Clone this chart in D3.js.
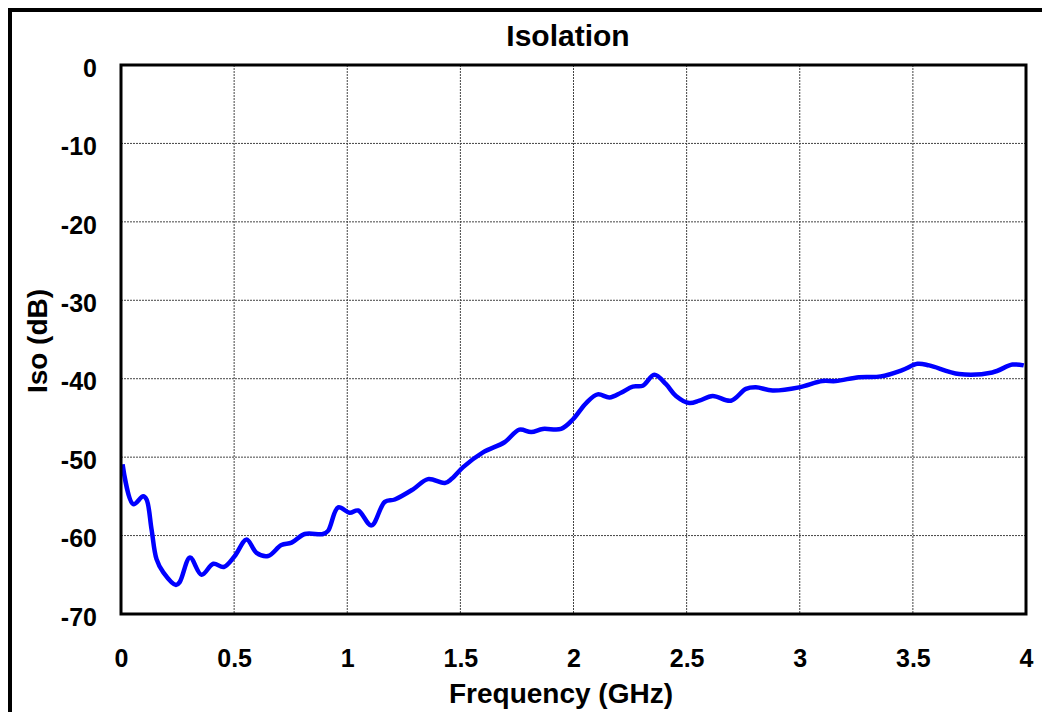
<!DOCTYPE html>
<html>
<head>
<meta charset="utf-8">
<title>Isolation</title>
<style>
  body { margin: 0; background: #fff; }
  svg { display: block; font-family: "Liberation Sans", Arial, sans-serif; }
  .tick text { font-size: 25px; font-weight: bold; fill: #000; }
  .grid line { stroke: #444; stroke-width: 1; stroke-dasharray: 2,1; }
</style>
</head>
<body>
<svg id="chart" width="1042" height="712"></svg>
<script src="https://cdn.jsdelivr.net/npm/d3@7"></script>
<script>
// frequency in GHz, isolation in dB
var freq = [0.007, 0.054, 0.098, 0.113, 0.135, 0.157, 0.187, 0.243, 0.26, 0.305, 0.356, 0.408, 0.454,
  0.503, 0.555, 0.599, 0.65, 0.709, 0.754, 0.812, 0.893, 0.915, 0.96, 1.011, 1.048, 1.107, 1.166,
  1.21, 1.291, 1.357, 1.431, 1.46, 1.511, 1.6, 1.695, 1.761, 1.813, 1.864, 1.945, 1.997, 2.056,
  2.107, 2.159, 2.21, 2.262, 2.306, 2.357, 2.409, 2.453, 2.512, 2.556, 2.615, 2.696, 2.762, 2.806,
  2.88, 2.997, 3.1, 3.159, 3.262, 3.358, 3.453, 3.52, 3.572, 3.704, 3.851, 3.94, 3.99];
var iso = [-50.9, -56.0, -55.0, -55.4, -59.2, -63.0, -64.7, -66.3, -65.9, -62.8, -65.0, -63.6, -64.0,
  -62.6, -60.5, -62.2, -62.6, -61.2, -60.9, -59.8, -59.8, -59.4, -56.4, -57.1, -56.8, -58.7, -55.7,
  -55.4, -54.1, -52.8, -53.3, -52.8, -51.3, -49.4, -48.1, -46.5, -46.8, -46.4, -46.4, -45.2, -43.1,
  -42.0, -42.4, -41.8, -41.0, -40.9, -39.5, -40.7, -42.2, -43.1, -42.8, -42.2, -42.8, -41.3, -41.1,
  -41.5, -41.1, -40.3, -40.3, -39.8, -39.7, -38.9, -38.1, -38.3, -39.4, -39.2, -38.2, -38.3];
var xTicks = [0, 0.5, 1, 1.5, 2, 2.5, 3, 3.5, 4];
var yTicks = [0, -10, -20, -30, -40, -50, -60, -70];

var svg = d3.select('#chart');
// plot box edges (window.top is reserved, so prefixed names)
var pLeft = 121, pRight = 1026, pTop = 65, pBottom = 614;

var x = d3.scaleLinear().domain([0, 4]).range([pLeft, pRight]);
var y = d3.scaleLinear().domain([-70, 0]).range([pBottom, pTop]);

// outer frame (runs off the right and bottom edge)
svg.append('rect')
  .attr('x', 10).attr('y', 10).attr('width', 1100).attr('height', 800)
  .attr('fill', 'none').attr('stroke', '#000').attr('stroke-width', 4);

// grid
var grid = svg.append('g').attr('class', 'grid');
grid.selectAll('.vx').data(xTicks.slice(1, -1)).enter().append('line')
  .attr('x1', d => x(d)).attr('x2', d => x(d)).attr('y1', pTop).attr('y2', pBottom);
grid.selectAll('.hy').data(yTicks.slice(1, -1)).enter().append('line')
  .attr('x1', pLeft).attr('x2', pRight).attr('y1', d => y(d)).attr('y2', d => y(d));

// axes (labels only), plain hyphen for negatives like the original
var xAxis = svg.append('g')
  .attr('transform', 'translate(0,' + (pBottom + 27) + ')')
  .call(d3.axisBottom(x).tickValues(xTicks).tickSize(0).tickPadding(8).tickFormat(d => String(d)));
xAxis.select('.domain').remove();

var yAxis = svg.append('g')
  .attr('transform', 'translate(' + (pLeft - 20) + ',0)')
  .call(d3.axisLeft(y).tickValues(yTicks).tickSize(0).tickPadding(4).tickFormat(d => String(d)));
yAxis.select('.domain').remove();
yAxis.selectAll('text').attr('dy', '0.45em');

// data line
var pts = freq.map((f, i) => [f, iso[i]]);
svg.append('path')
  .datum(pts)
  .attr('fill', 'none')
  .attr('stroke', '#0000ff')
  .attr('stroke-width', 4.5)
  .attr('stroke-linejoin', 'round')
  .attr('d', d3.line().x(d => x(d[0])).y(d => y(d[1])).curve(d3.curveCatmullRom));

// plot border
svg.append('rect')
  .attr('x', pLeft).attr('y', pTop).attr('width', pRight - pLeft).attr('height', pBottom - pTop)
  .attr('fill', 'none').attr('stroke', '#000').attr('stroke-width', 3);

// titles
svg.append('text').attr('x', 568).attr('y', 46)
  .attr('text-anchor', 'middle').attr('font-size', 30).attr('font-weight', 'bold')
  .text('Isolation');
svg.append('text').attr('x', 561).attr('y', 703)
  .attr('text-anchor', 'middle').attr('font-size', 28).attr('font-weight', 'bold')
  .text('Frequency (GHz)');
svg.append('text')
  .attr('transform', 'translate(47,341) rotate(-90)')
  .attr('text-anchor', 'middle').attr('font-size', 28).attr('font-weight', 'bold')
  .text('Iso (dB)');
</script>
</body>
</html>
